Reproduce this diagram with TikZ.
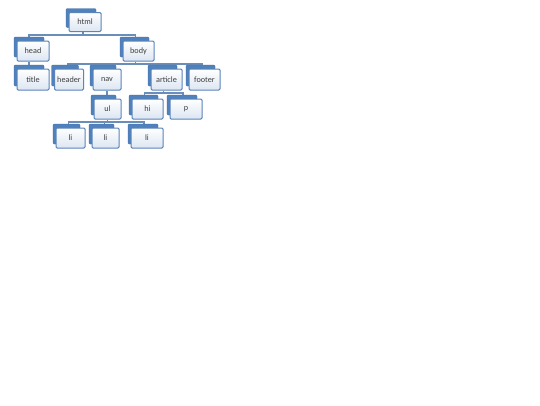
\documentclass[tikz,border=0pt]{standalone}
\usepackage{fontspec}
\setmainfont{Carlito}
\usetikzlibrary{backgrounds}
\definecolor{cardblue}{HTML}{4F81BD}
\definecolor{cardedge}{HTML}{5B84BA}
\definecolor{cardlight}{HTML}{DCE6F2}
\definecolor{connc}{HTML}{6A8DBA}
\definecolor{txt}{HTML}{404040}
\tikzset{
  front/.style={rectangle, rounded corners=1.2pt, draw=cardedge, line width=1pt,
    top color=white, bottom color=cardlight, text=txt, inner sep=0pt,
    font=\fontsize{8.2}{9.5}\selectfont},
  back/.style={rectangle, rounded corners=1.2pt, fill=cardblue, draw=cardblue!85!black, line width=0.4pt, inner sep=0pt},
  conn/.style={draw=connc, line width=1.1pt},
}
\newcommand{\card}[7]{% name, cx, cy, w, h, text
  \node[back, minimum width=#4pt-2pt, minimum height=#5pt] (#1-b) at (#2-4,#3-4) {};
  \node[front, minimum width=#4pt, minimum height=#5pt] (#1) at (#2,#3) {#6#7};
}
\begin{document}
\begin{tikzpicture}[x=1pt,y=-1pt]
\useasboundingbox (0,0) rectangle (540,405);
\card{html}{85}{22}{32}{19}{html}{}
\card{head}{33}{51}{32}{20}{head}{}
\card{body}{138.5}{51}{31}{20}{body}{}
\card{title}{33}{79.5}{32}{21}{title}{}
\card{header}{69}{79.5}{29}{21}{header}{}
\card{nav}{107}{79.5}{28}{21}{nav}{}
\card{article}{166.5}{79.5}{31}{21}{article}{}
\card{footer}{204.5}{79.5}{31}{21}{footer}{}
\card{ul}{107.5}{109}{27}{20}{ul}{}
\card{hi}{147.5}{109}{31}{20}{hi}{}
\card{p}{186}{109}{32}{20}{p}{}
\card{lia}{70.5}{138}{29}{20}{li}{}
\card{lib}{105.5}{138}{27}{20}{li}{}
\card{lic}{147}{138}{32}{20}{li}{}
\coordinate (busA) at (0,35);
\coordinate (busB) at (0,64);
\coordinate (busC) at (0,93);
\coordinate (busD) at (0,122);
\begin{pgfonlayer}{background}
\fill[white] (0,0) rectangle (540,405);
\draw[conn] ([xshift=-2pt]html.south) -- ([xshift=-2pt]html.south |- busA) -| ([xshift=-4pt]head.north);
\draw[conn] ([xshift=-2pt]html.south |- busA) -| ([xshift=-3pt]body.north);
\draw[conn] ([xshift=-4pt]head.south) -- ([xshift=-4pt]title.north);
\draw[conn] ([xshift=-3pt]body.south) -- ([xshift=-3pt]body.south |- busB) -| ([xshift=-1pt]header.north);
\draw[conn] ([xshift=-3pt]body.south |- busB) -| (nav.north);
\draw[conn] ([xshift=-3pt]body.south |- busB) -| ([xshift=-3pt]article.north);
\draw[conn] ([xshift=-3pt]body.south |- busB) -| ([xshift=-2pt]footer.north);
\draw[conn] (nav.south) -- (nav.south |- ul.north);
\draw[conn] ([xshift=-3pt]article.south) -- ([xshift=-3pt]article.south |- busC) -| ([xshift=-3pt]hi.north);
\draw[conn] ([xshift=-3pt]article.south |- busC) -| ([xshift=-3pt]p.north);
\draw[conn] (ul.south) -- (ul.south |- busD) -| ([xshift=-2pt]lia.north);
\draw[conn] (ul.south |- busD) -| ([xshift=-1pt]lib.north);
\draw[conn] (ul.south |- busD) -| ([xshift=-3pt]lic.north);
\end{pgfonlayer}
\end{tikzpicture}
\end{document}
